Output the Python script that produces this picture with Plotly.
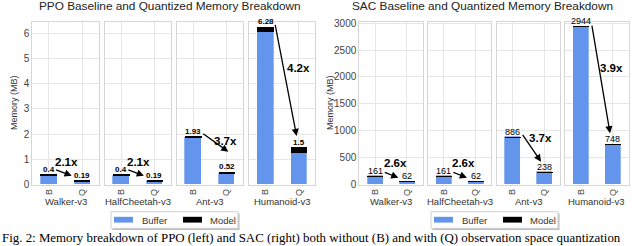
import plotly.graph_objects as go

# ---------------- data ----------------
envs = ["Walker-v3", "HalfCheetah-v3", "Ant-v3", "Humanoid-v3"]
modes = ["B", "Q"]

ppo_total_B = [0.4, 0.4, 1.93, 6.28]
ppo_total_Q = [0.19, 0.19, 0.52, 1.5]
ppo_model = [0.04, 0.04, 0.08, 0.22]

sac_total_B = [161, 161, 886, 2944]
sac_total_Q = [62, 62, 238, 748]
sac_model = [1.2, 1.2, 1.4, 1.6]

titles = ["PPO Baseline and Quantized Memory Breakdown",
          "SAC Baseline and Quantized Memory Breakdown"]
y_title = "Memory (MB)"
caption = ("Fig. 2: Memory breakdown of PPO (left) and SAC (right) both without (B) "
           "and with (Q) observation space quantization")

# ---------------- layout geometry (pixels) ----------------
W, H = 640, 246
def X(px): return px / W
def Y(py): return 1 - py / H

PLOT_TOP, PLOT_BOT = 21.5, 184.5
charts = [
    dict(tB=ppo_total_B, tQ=ppo_total_Q, model=ppo_model, starts=[32.3 + i * 72.2 for i in range(4)],
         width=66.4, dtick=1, fmt=lambda v: f"{round(v, 2):g}", lab_bold=True, lab_size=8,
         title_x=170, ytitle_x=14, legend_x=111,
         # arrow geometry offsets in px: (start dx, start dy, end dx, end dy, text dx, text dy)
         arrows=[(5.7, 5.1, -10.4, 4.0, 1.2, 12.1), (5.7, 5.1, -10.4, 4.0, 1.2, 12.1),
                 (8.4, 3.2, 1.8, 19.7, 16.0, -4.8), (9.4, 2.9, -2.1, 10.7, 16.8, -41.8)]),
    dict(tB=sac_total_B, tQ=sac_total_Q, model=sac_model, starts=[359.3 + i * 68.6 for i in range(4)],
         width=63.5, dtick=500, fmt=lambda v: f"{v:.0f}", lab_bold=False, lab_size=9,
         title_x=482, ytitle_x=330, legend_x=431,
         arrows=[(8.1, 4.1, -8.6, 3.5, 4.0, 13.1), (8.1, 4.1, -8.6, 3.5, 4.0, 13.1),
                 (9.3, 3.6, -3.1, 10.0, 11.8, -1.4), (10.7, 2.2, -2.7, 11.0, 14.8, -42.1)]),
]

BLUE = "#6495ED"
GRID = "#E6E6E6"
BORDER = "#D6D6D6"
FONT = "Liberation Sans, Arial, sans-serif"

fig = go.Figure()
annotations = []
shapes = []
layout_axes = {}

k = 0
for c, ch in enumerate(charts):
    ymax = max(ch["tB"]) * 1.03
    yscale = (PLOT_BOT - PLOT_TOP) / ymax   # px per data unit
    xscale = ch["width"] / 2.0              # px per category unit
    for i, env in enumerate(envs):
        k += 1
        xa, ya = f"x{k}", f"y{k}"
        m = ch["model"][i]
        tot = [ch["tB"][i], ch["tQ"][i]]
        buf = [t - m for t in tot]
        fig.add_trace(go.Bar(x=[0, 1], y=buf, width=0.5, marker=dict(color=BLUE, line=dict(color="rgba(255,255,255,0.6)", width=0.5)),
                             name="Buffer", showlegend=False, xaxis=xa, yaxis=ya))
        fig.add_trace(go.Bar(x=[0, 1], y=[m, m], width=0.5, marker=dict(color="black", line=dict(width=0)),
                             name="Model", showlegend=False, xaxis=xa, yaxis=ya))
        x0 = ch["starts"][i]
        layout_axes[f"xaxis{k}"] = dict(
            domain=[X(x0), X(x0 + ch["width"])], anchor=ya, range=[-0.5, 1.5], automargin=False,
            tickvals=[0, 1], ticktext=modes, tickangle=-90, tickfont=dict(size=9, color="#444", family=FONT),
            showgrid=True, gridcolor=GRID, gridwidth=1, zeroline=False,
            showline=True, mirror=True, linecolor=BORDER, linewidth=1, ticks="", fixedrange=True)
        layout_axes[f"yaxis{k}"] = dict(
            domain=[Y(PLOT_BOT), Y(PLOT_TOP)], anchor=xa, range=[0, ymax], dtick=ch["dtick"], automargin=False,
            showticklabels=(i == 0), tickfont=dict(size=10, color="#444", family=FONT),
            showgrid=True, gridcolor=GRID, gridwidth=1, zeroline=False,
            showline=True, mirror=True, linecolor=BORDER, linewidth=1, ticks="", fixedrange=True)
        # value labels
        for j in range(2):
            txt = ch["fmt"](tot[j])
            if ch["lab_bold"]:
                txt = f"<b>{txt}</b>"
            annotations.append(dict(x=j, y=tot[j], xref=xa, yref=ya, text=txt, showarrow=False,
                                    yanchor="bottom", xanchor="center", yshift=-2,
                                    font=dict(size=ch["lab_size"], color="black", family=FONT)))
        # arrow from B to Q
        sdx, sdy, edx, edy, tdx, tdy = ch["arrows"][i]
        annotations.append(dict(
            x=1 + edx / xscale, y=tot[1] + edy / yscale, xref=xa, yref=ya,
            ax=0 + sdx / xscale, ay=tot[0] + sdy / yscale, axref=xa, ayref=ya,
            text="", showarrow=True, arrowhead=2, arrowsize=1.1, arrowwidth=1.3, arrowcolor="black"))
        ratio = tot[0] / tot[1]
        annotations.append(dict(
            x=0.5 + tdx / xscale, y=tot[0] + tdy / yscale, xref=xa, yref=ya,
            text=f"<b>{ratio:.1f}x</b>", showarrow=False, xanchor="center", yanchor="middle",
            font=dict(size=11.5, color="black", family=FONT)))
        # facet strip label
        annotations.append(dict(x=X(x0 + ch["width"] / 2), y=Y(201), xref="paper", yref="paper",
                                text=env, showarrow=False, xanchor="center", yanchor="middle",
                                font=dict(size=9.5, color="#333", family=FONT)))
    # chart title
    annotations.append(dict(x=X(ch["title_x"]), y=Y(6), xref="paper", yref="paper", text=titles[c],
                            showarrow=False, xanchor="center", yanchor="middle",
                            font=dict(size=11.8, color="#222", family=FONT)))
    # y-axis title
    annotations.append(dict(x=X(ch["ytitle_x"]), y=Y(103), xref="paper", yref="paper", text=y_title,
                            showarrow=False, xanchor="center", yanchor="middle", textangle=-90,
                            font=dict(size=9, color="#333", family=FONT)))
    # legend (drawn)
    lx = ch["legend_x"]
    shapes.append(dict(type="rect", xref="paper", yref="paper", x0=X(lx + 1.5), x1=X(lx + 128.5),
                       y0=Y(230), y1=Y(213.2), fillcolor="#BDBDBD", line=dict(width=0), layer="above"))
    shapes.append(dict(type="rect", xref="paper", yref="paper", x0=X(lx), x1=X(lx + 127),
                       y0=Y(228.3), y1=Y(211.7), fillcolor="white", line=dict(color="#CFCFCF", width=1), layer="above"))
    for sx, col, lab, tx in [(3, BLUE, "Buffer", 29), (72, "black", "Model", 97)]:
        shapes.append(dict(type="rect", xref="paper", yref="paper", x0=X(lx + sx), x1=X(lx + sx + 19),
                           y0=Y(222.6), y1=Y(216.8), fillcolor=col, line=dict(width=0), layer="above"))
        annotations.append(dict(x=X(lx + tx), y=Y(220), xref="paper", yref="paper", text=lab,
                                showarrow=False, xanchor="left", yanchor="middle",
                                font=dict(size=9.5, color="#333", family=FONT)))

# caption
annotations.append(dict(x=X(1), y=Y(246.5), xref="paper", yref="paper", text=caption, showarrow=False,
                        xanchor="left", yanchor="bottom", borderpad=0,
                        font=dict(size=12.9, color="black", family="Liberation Serif, Times New Roman, serif")))

fig.update_layout(
    width=W, height=H, margin=dict(l=0, r=0, t=0, b=0),
    paper_bgcolor="white", plot_bgcolor="white", barmode="stack", bargap=0,
    showlegend=False, annotations=annotations, shapes=shapes,
    font=dict(family=FONT), **layout_axes)

fig.write_html("out.html", config={"displayModeBar": False},
               post_script="document.body.style.margin='0px';document.body.style.overflow='hidden';")
